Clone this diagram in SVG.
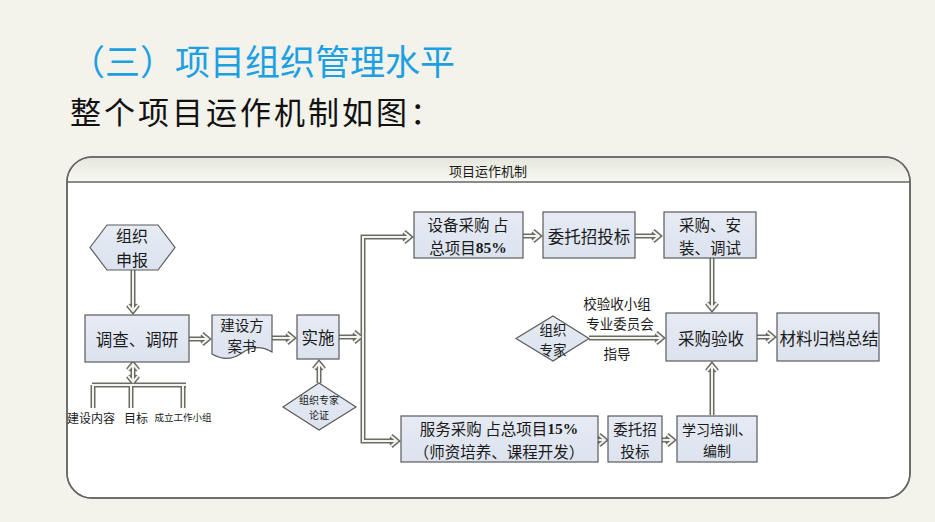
<svg xmlns="http://www.w3.org/2000/svg" xmlns:xlink="http://www.w3.org/1999/xlink" width="935" height="522" viewBox="0 0 935 522">
<defs>
<linearGradient id="hdr" x1="0" y1="0" x2="0" y2="1">
<stop offset="0" stop-color="#e6e7dc"/>
<stop offset="1" stop-color="#f8f8f2"/>
</linearGradient>
<linearGradient id="box" x1="0" y1="0" x2="0" y2="1">
<stop offset="0" stop-color="#e6ebf4"/>
<stop offset="1" stop-color="#dce3ef"/>
</linearGradient>
<path id="c1" d="M133,270 V310 M128,305 L133,311 L138,305"/>
<path id="c2" d="M133,365 V380 M128,370 L133,364 L138,370 M128,376 L133,382 L138,376"/>
<path id="c3" d="M92,385 H186 M93,385 V408 M131,385 V408 M183,385 V408"/>
<path id="c4" d="M189,339 H207 M202,334 L208,339 L202,344"/>
<path id="c5" d="M272,338 H292 M287,333 L293,338 L287,343"/>
<path id="c6" d="M319,383 V364 M314,369 L319,363 L324,369"/>
<path id="c7" d="M339,337 H359 M354,332 L360,337 L354,342"/>
<path id="c8" d="M409,237 H363 V441 H396 M404,232 L410,237 L404,242 M391,436 L397,441 L391,446"/>
<path id="c9" d="M523,236 H539 M533,231 L539,236 L533,241"/>
<path id="c10" d="M635,236 H659 M653,231 L659,236 L653,241"/>
<path id="c11" d="M712,258 V308 M707,303 L712,309 L717,303"/>
<path id="c12" d="M589,338 H661 M656,333 L662,338 L656,343"/>
<path id="c13" d="M757,337 H773 M767,332 L773,337 L767,342"/>
<path id="c14" d="M712,415 V366 M707,371 L712,365 L717,371"/>
<path id="c15" d="M598,440 H604 M599,435 L605,440 L599,445"/>
<path id="c16" d="M662,440 H673 M667,435 L673,440 L667,445"/>
</defs>
<style>
.bx{fill:url(#box);stroke:#5a5a5a;stroke-width:1.2}
.t{font-family:"Noto Sans CJK SC","Noto Sans",sans-serif;fill:#1a1a1a;text-anchor:middle;dominant-baseline:central}
.num{font-family:"Liberation Serif",serif;font-weight:bold}
.o{fill:none;stroke:#6c6c66;stroke-width:5;stroke-linejoin:miter;stroke-linecap:butt}
.i{fill:none;stroke:#f4f4ee;stroke-width:2;stroke-linejoin:miter;stroke-linecap:butt}
</style>
<rect x="0" y="0" width="935" height="522" fill="#f3f2eb"/>
<text x="70" y="75" font-family="Noto Sans CJK SC,sans-serif" font-size="35" fill="#1ba0e2">（三）项目组织管理水平</text>
<text x="70" y="124" font-family="Noto Sans CJK SC,sans-serif" font-size="31" letter-spacing="3" fill="#111">整个项目运作机制如图：</text>

<g id="frame">
<rect x="67" y="157" width="843" height="341" rx="25" ry="25" fill="#ffffff" stroke="#666" stroke-width="1.5"/>
<path d="M67.75,182 A25,25 0 0 1 92,157.75 H885 A25,25 0 0 1 909.25,182 Z" fill="url(#hdr)"/>
<rect x="67" y="157" width="843" height="341" rx="25" ry="25" fill="none" stroke="#666" stroke-width="1.5"/>
<line x1="67" y1="182" x2="910" y2="182" stroke="#666" stroke-width="1.5"/>
<text class="t" x="488" y="170" font-size="13">项目运作机制</text>
</g>

<g id="connectors">
<g class="o">
<use xlink:href="#c1"/><use xlink:href="#c2"/><use xlink:href="#c3"/><use xlink:href="#c4"/>
<use xlink:href="#c5"/><use xlink:href="#c6"/><use xlink:href="#c7"/><use xlink:href="#c8"/>
<use xlink:href="#c9"/><use xlink:href="#c10"/><use xlink:href="#c11"/><use xlink:href="#c12"/>
<use xlink:href="#c13"/><use xlink:href="#c14"/><use xlink:href="#c15"/><use xlink:href="#c16"/>
</g>
<g class="i">
<use xlink:href="#c1"/><use xlink:href="#c2"/><use xlink:href="#c3"/><use xlink:href="#c4"/>
<use xlink:href="#c5"/><use xlink:href="#c6"/><use xlink:href="#c7"/><use xlink:href="#c8"/>
<use xlink:href="#c9"/><use xlink:href="#c10"/><use xlink:href="#c11"/><use xlink:href="#c12"/>
<use xlink:href="#c13"/><use xlink:href="#c14"/><use xlink:href="#c15"/><use xlink:href="#c16"/>
</g>
<text class="t" x="617" y="303" font-size="13.5">校验收小组</text>
<text class="t" x="620" y="323" font-size="13.5">专业委员会</text>
<text class="t" x="617" y="353" font-size="13.5">指导</text>
</g>

<g id="n-apply">
<polygon class="bx" points="90,247.5 107,225 158,225 175,247.5 158,270 107,270"/>
<text class="t" x="132" y="235" font-size="16">组织</text>
<text class="t" x="132" y="259" font-size="16">申报</text>
</g>

<g id="n-survey">
<rect class="bx" x="85" y="315" width="104" height="47"/>
<text class="t" x="137" y="339" font-size="16.5">调查、调研</text>
</g>

<g id="n-items">
<text class="t" x="91" y="417" font-size="12">建设内容</text>
<text class="t" x="136" y="417" font-size="12">目标</text>
<text class="t" x="183" y="417" font-size="9.5">成立工作小组</text>
</g>

<g id="n-plan">
<path class="bx" d="M212,315 H272 V352 C262,346 252,346 242,353 C232,360 222,360 212,354 Z"/>
<text class="t" x="242" y="324" font-size="14.5">建设方</text>
<text class="t" x="242" y="345" font-size="14.5">案书</text>
</g>

<g id="n-impl">
<rect class="bx" x="297" y="315" width="42" height="44"/>
<text class="t" x="318" y="337" font-size="16.5">实施</text>
</g>

<g id="n-review">
<polygon class="bx" points="319,383 356,407 319,430 283,407"/>
<text class="t" x="319" y="399" font-size="10">组织专家</text>
<text class="t" x="319" y="414" font-size="10">论证</text>
</g>

<g id="n-equip">
<rect class="bx" x="414" y="212" width="109" height="46"/>
<text class="t" x="468" y="224" font-size="15.5">设备采购 占</text>
<text class="t" x="468" y="247" font-size="15.5">总项目<tspan class="num">85%</tspan></text>
</g>

<g id="n-bid1">
<rect class="bx" x="543" y="212" width="92" height="46"/>
<text class="t" x="589" y="236" font-size="16.5">委托招投标</text>
</g>

<g id="n-install">
<rect class="bx" x="664" y="212" width="92" height="46"/>
<text class="t" x="710" y="224" font-size="15.5">采购、安</text>
<text class="t" x="710" y="247" font-size="15.5">装、调试</text>
</g>

<g id="n-expert">
<polygon class="bx" points="553,316 589,338.5 553,361 516,338.5"/>
<text class="t" x="553" y="329" font-size="13.5">组织</text>
<text class="t" x="553" y="349" font-size="13.5">专家</text>
</g>

<g id="n-accept">
<rect class="bx" x="666" y="313" width="91" height="48"/>
<text class="t" x="711" y="338" font-size="16.5">采购验收</text>
</g>

<g id="n-archive">
<rect class="bx" x="777" y="313" width="102" height="48"/>
<text class="t" x="829" y="338" font-size="16.5">材料归档总结</text>
</g>

<g id="n-service">
<rect class="bx" x="401" y="416" width="197" height="46"/>
<text class="t" x="499" y="428" font-size="15.5">服务采购 占总项目<tspan class="num">15%</tspan></text>
<text class="t" x="499" y="451" font-size="15.5">（师资培养、课程开发）</text>
</g>

<g id="n-bid2">
<rect class="bx" x="608" y="416" width="54" height="46"/>
<text class="t" x="635" y="428" font-size="14.5">委托招</text>
<text class="t" x="635" y="450" font-size="14.5">投标</text>
</g>

<g id="n-train">
<rect class="bx" x="677" y="416" width="80" height="46"/>
<text class="t" x="717" y="429" font-size="14">学习培训、</text>
<text class="t" x="717" y="450" font-size="14">编制</text>
</g>
</svg>
